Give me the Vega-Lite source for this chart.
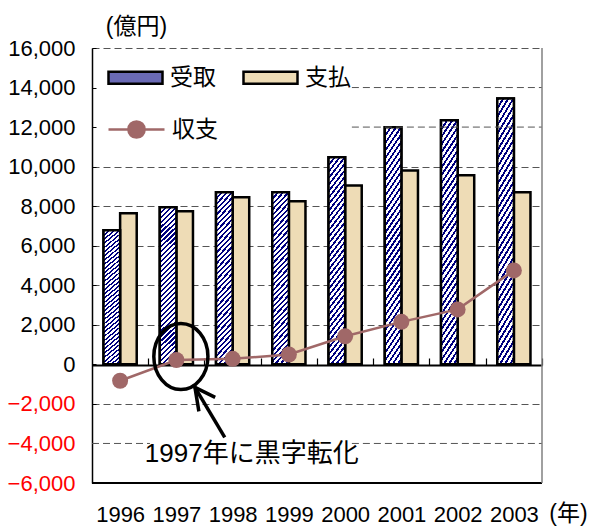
{
  "$schema": "https://vega.github.io/schema/vega-lite/v6.json",
  "width": 450,
  "height": 435,
  "autosize": "none",
  "padding": {"left": 92, "top": 48, "right": 50, "bottom": 44},
  "config": {
    "view": {"stroke": null},
    "font": "'Liberation Sans', 'Noto Sans CJK JP', sans-serif",
    "axis": {"labelFont": "'Liberation Sans', 'Noto Sans CJK JP', sans-serif", "titleFont": "'Liberation Sans', 'Noto Sans CJK JP', sans-serif"},
    "legend": {"labelFont": "'Liberation Sans', 'Noto Sans CJK JP', sans-serif"}
  },
  "encoding": {
    "y": {
      "field": "value", "type": "quantitative",
      "scale": {"domain": [-6000, 16000], "nice": false, "zero": false},
      "axis": {
        "values": [-6000, -4000, -2000, 0, 2000, 4000, 6000, 8000, 10000, 12000, 14000, 16000],
        "tickCount": 30,
        "format": ",.0f", "labelFontSize": 22, "labelPadding": 21, "labelOverlap": false, "labelBound": false, "labelFlush": false,
        "labelColor": {"condition": {"test": "datum.value < 0", "value": "#ff0000"}, "value": "black"},
        "ticks": true, "tickSize": -4, "tickColor": "black", "tickWidth": 1,
        "domainColor": "black", "domainWidth": 1.5,
        "grid": true, "gridColor": "#555555", "gridDash": [7, 4], "gridWidth": 1,
        "gridOpacity": {"condition": {"test": "datum.value == 0 || datum.value == -6000 || datum.value == -4000 || datum.value == 12000 || datum.value == 14000", "value": 0}, "value": 1},
        "title": "(億円)", "titleAngle": 0, "titleX": 44, "titleY": -22, "titleAlign": "center", "titleBaseline": "middle",
        "titleFontSize": 23, "titleFontWeight": "normal", "titleColor": "black"
      }
    }
  },
  "layer": [
    {
      "data": {
        "values": [
          {"year": "1996", "kind": "受取", "value": 6780},
          {"year": "1997", "kind": "受取", "value": 7940},
          {"year": "1998", "kind": "受取", "value": 8700},
          {"year": "1999", "kind": "受取", "value": 8700},
          {"year": "2000", "kind": "受取", "value": 10470},
          {"year": "2001", "kind": "受取", "value": 11990},
          {"year": "2002", "kind": "受取", "value": 12340},
          {"year": "2003", "kind": "受取", "value": 13450},
          {"year": "1996", "kind": "支払", "value": 7640},
          {"year": "1997", "kind": "支払", "value": 7740},
          {"year": "1998", "kind": "支払", "value": 8450},
          {"year": "1999", "kind": "支払", "value": 8250},
          {"year": "2000", "kind": "支払", "value": 9050},
          {"year": "2001", "kind": "支払", "value": 9810},
          {"year": "2002", "kind": "支払", "value": 9560},
          {"year": "2003", "kind": "支払", "value": 8700},
          {"year": "1996", "kind": "収支", "value": -830},
          {"year": "1997", "kind": "収支", "value": 220},
          {"year": "1998", "kind": "収支", "value": 280},
          {"year": "1999", "kind": "収支", "value": 500},
          {"year": "2000", "kind": "収支", "value": 1420},
          {"year": "2001", "kind": "収支", "value": 2150},
          {"year": "2002", "kind": "収支", "value": 2780},
          {"year": "2003", "kind": "収支", "value": 4750}
        ]
      },
      "layer": [
        {
          "transform": [{"filter": "datum.kind !== '収支'"}],
          "mark": {"type": "bar", "stroke": "black", "strokeWidth": 2.5},
          "encoding": {
            "x": {
              "field": "year", "type": "nominal",
              "scale": {"paddingInner": 0.41, "paddingOuter": 0.205},
              "axis": {
                "offset": -118, "domainColor": "black", "domainWidth": 2,
                "ticks": true, "bandPosition": 1, "tickOffset": 11.5, "labelOffset": -11.5,
                "tickSize": -7, "tickColor": "black", "tickWidth": 1.2,
                "labelAngle": 0, "labelFontSize": 22, "labelPadding": 146, "labelColor": "black", "labelOverlap": false,
                "title": "(年)", "titleX": 476, "titleY": 148, "titleAlign": "center", "titleBaseline": "middle",
                "titleFontSize": 23, "titleFontWeight": "normal", "titleColor": "black"
              }
            },
            "xOffset": {"field": "kind", "type": "nominal", "scale": {"domain": ["受取", "支払"], "paddingInner": 0, "paddingOuter": 0}},
            "fill": {
              "field": "kind", "type": "nominal",
              "scale": {"domain": ["受取", "支払"], "range": ["#6a6ab5", "#eedcb6"]},
              "legend": {
                "orient": "none", "legendX": 15, "legendY": 1, "direction": "horizontal", "columns": 2,
                "title": null, "symbolType": "M-1,-0.22H1V0.22H-1Z", "symbolSize": 2916,
                "symbolStrokeColor": "black", "symbolStrokeWidth": 2.5, "symbolOpacity": 1,
                "labelFontSize": 23, "labelOffset": 6, "columnPadding": 22, "padding": 0, "labelColor": "black"
              }
            }
          }
        },
        {
          "transform": [{"filter": "datum.kind === '受取'"}],
          "mark": {
            "type": "bar", "stroke": "black", "strokeWidth": 2.5,
            "fill": {
              "gradient": "linear", "x1": 0, "y1": 0, "x2": 1, "y2": 9.6,
              "stops": [
                {"offset": 0, "color": "#000080"}, {"offset": 0.0014, "color": "#000080"}, {"offset": 0.0014, "color": "#ffffff"}, {"offset": 0.00325, "color": "#ffffff"},
                {"offset": 0.00325, "color": "#000080"}, {"offset": 0.00465, "color": "#000080"}, {"offset": 0.00465, "color": "#ffffff"}, {"offset": 0.0065, "color": "#ffffff"},
                {"offset": 0.0065, "color": "#000080"}, {"offset": 0.0079, "color": "#000080"}, {"offset": 0.0079, "color": "#ffffff"}, {"offset": 0.00975, "color": "#ffffff"},
                {"offset": 0.00975, "color": "#000080"}, {"offset": 0.01115, "color": "#000080"}, {"offset": 0.01115, "color": "#ffffff"}, {"offset": 0.013, "color": "#ffffff"},
                {"offset": 0.013, "color": "#000080"}, {"offset": 0.0144, "color": "#000080"}, {"offset": 0.0144, "color": "#ffffff"}, {"offset": 0.01625, "color": "#ffffff"},
                {"offset": 0.01625, "color": "#000080"}, {"offset": 0.01765, "color": "#000080"}, {"offset": 0.01765, "color": "#ffffff"}, {"offset": 0.0195, "color": "#ffffff"},
                {"offset": 0.0195, "color": "#000080"}, {"offset": 0.0209, "color": "#000080"}, {"offset": 0.0209, "color": "#ffffff"}, {"offset": 0.02275, "color": "#ffffff"},
                {"offset": 0.02275, "color": "#000080"}, {"offset": 0.02415, "color": "#000080"}, {"offset": 0.02415, "color": "#ffffff"}, {"offset": 0.026, "color": "#ffffff"},
                {"offset": 0.026, "color": "#000080"}, {"offset": 0.0274, "color": "#000080"}, {"offset": 0.0274, "color": "#ffffff"}, {"offset": 0.02925, "color": "#ffffff"},
                {"offset": 0.02925, "color": "#000080"}, {"offset": 0.03065, "color": "#000080"}, {"offset": 0.03065, "color": "#ffffff"}, {"offset": 0.0325, "color": "#ffffff"},
                {"offset": 0.0325, "color": "#000080"}, {"offset": 0.0339, "color": "#000080"}, {"offset": 0.0339, "color": "#ffffff"}, {"offset": 0.03575, "color": "#ffffff"},
                {"offset": 0.03575, "color": "#000080"}, {"offset": 0.03715, "color": "#000080"}, {"offset": 0.03715, "color": "#ffffff"}, {"offset": 0.039, "color": "#ffffff"},
                {"offset": 0.039, "color": "#000080"}, {"offset": 0.0404, "color": "#000080"}, {"offset": 0.0404, "color": "#ffffff"}, {"offset": 0.04225, "color": "#ffffff"},
                {"offset": 0.04225, "color": "#000080"}, {"offset": 0.04365, "color": "#000080"}, {"offset": 0.04365, "color": "#ffffff"}, {"offset": 0.0455, "color": "#ffffff"},
                {"offset": 0.0455, "color": "#000080"}, {"offset": 0.0469, "color": "#000080"}, {"offset": 0.0469, "color": "#ffffff"}, {"offset": 0.04875, "color": "#ffffff"},
                {"offset": 0.04875, "color": "#000080"}, {"offset": 0.05015, "color": "#000080"}, {"offset": 0.05015, "color": "#ffffff"}, {"offset": 0.052, "color": "#ffffff"},
                {"offset": 0.052, "color": "#000080"}, {"offset": 0.0534, "color": "#000080"}, {"offset": 0.0534, "color": "#ffffff"}, {"offset": 0.05525, "color": "#ffffff"},
                {"offset": 0.05525, "color": "#000080"}, {"offset": 0.05665, "color": "#000080"}, {"offset": 0.05665, "color": "#ffffff"}, {"offset": 0.0585, "color": "#ffffff"},
                {"offset": 0.0585, "color": "#000080"}, {"offset": 0.0599, "color": "#000080"}, {"offset": 0.0599, "color": "#ffffff"}, {"offset": 0.06175, "color": "#ffffff"},
                {"offset": 0.06175, "color": "#000080"}, {"offset": 0.06315, "color": "#000080"}, {"offset": 0.06315, "color": "#ffffff"}, {"offset": 0.065, "color": "#ffffff"},
                {"offset": 0.065, "color": "#000080"}, {"offset": 0.0664, "color": "#000080"}, {"offset": 0.0664, "color": "#ffffff"}, {"offset": 0.06825, "color": "#ffffff"},
                {"offset": 0.06825, "color": "#000080"}, {"offset": 0.06965, "color": "#000080"}, {"offset": 0.06965, "color": "#ffffff"}, {"offset": 0.0715, "color": "#ffffff"},
                {"offset": 0.0715, "color": "#000080"}, {"offset": 0.0729, "color": "#000080"}, {"offset": 0.0729, "color": "#ffffff"}, {"offset": 0.07475, "color": "#ffffff"},
                {"offset": 0.07475, "color": "#000080"}, {"offset": 0.07615, "color": "#000080"}, {"offset": 0.07615, "color": "#ffffff"}, {"offset": 0.078, "color": "#ffffff"},
                {"offset": 0.078, "color": "#000080"}, {"offset": 0.0794, "color": "#000080"}, {"offset": 0.0794, "color": "#ffffff"}, {"offset": 0.08125, "color": "#ffffff"},
                {"offset": 0.08125, "color": "#000080"}, {"offset": 0.08265, "color": "#000080"}, {"offset": 0.08265, "color": "#ffffff"}, {"offset": 0.0845, "color": "#ffffff"},
                {"offset": 0.0845, "color": "#000080"}, {"offset": 0.0859, "color": "#000080"}, {"offset": 0.0859, "color": "#ffffff"}, {"offset": 0.08775, "color": "#ffffff"},
                {"offset": 0.08775, "color": "#000080"}, {"offset": 0.08915, "color": "#000080"}, {"offset": 0.08915, "color": "#ffffff"}, {"offset": 0.091, "color": "#ffffff"},
                {"offset": 0.091, "color": "#000080"}, {"offset": 0.0924, "color": "#000080"}, {"offset": 0.0924, "color": "#ffffff"}, {"offset": 0.09425, "color": "#ffffff"},
                {"offset": 0.09425, "color": "#000080"}, {"offset": 0.09565, "color": "#000080"}, {"offset": 0.09565, "color": "#ffffff"}, {"offset": 0.0975, "color": "#ffffff"},
                {"offset": 0.0975, "color": "#000080"}, {"offset": 0.0989, "color": "#000080"}, {"offset": 0.0989, "color": "#ffffff"}, {"offset": 0.10075, "color": "#ffffff"},
                {"offset": 0.10075, "color": "#000080"}, {"offset": 0.10215, "color": "#000080"}, {"offset": 0.10215, "color": "#ffffff"}, {"offset": 0.104, "color": "#ffffff"},
                {"offset": 0.104, "color": "#000080"}, {"offset": 0.1054, "color": "#000080"}, {"offset": 0.1054, "color": "#ffffff"}, {"offset": 0.10725, "color": "#ffffff"},
                {"offset": 0.10725, "color": "#000080"}, {"offset": 0.10865, "color": "#000080"}, {"offset": 0.10865, "color": "#ffffff"}, {"offset": 0.1105, "color": "#ffffff"},
                {"offset": 0.1105, "color": "#000080"}, {"offset": 0.1119, "color": "#000080"}, {"offset": 0.1119, "color": "#ffffff"}, {"offset": 0.11375, "color": "#ffffff"},
                {"offset": 0.11375, "color": "#000080"}, {"offset": 0.11515, "color": "#000080"}, {"offset": 0.11515, "color": "#ffffff"}, {"offset": 0.12, "color": "#ffffff"}
              ]
            }
          },
          "encoding": {
            "x": {"field": "year", "type": "nominal"},
            "xOffset": {"field": "kind", "type": "nominal", "scale": {"domain": ["受取", "支払"], "paddingInner": 0, "paddingOuter": 0}}
          }
        },
        {
          "transform": [{"filter": "datum.kind === '収支'"}],
          "mark": {"type": "line", "strokeWidth": 2.5, "point": {"filled": true, "size": 256, "opacity": 1}},
          "encoding": {
            "x": {"field": "year", "type": "nominal"},
            "color": {
              "datum": "収支",
              "scale": {"range": ["#a06868"]},
              "legend": {
                "orient": "none", "legendX": 15, "legendY": 52, "title": null,
                "symbolType": "M-1,0H1M0.29,0A0.29,0.29 0 1,1 -0.29,0A0.29,0.29 0 1,1 0.29,0Z",
                "symbolSize": 3136, "symbolStrokeWidth": 2.5, "symbolFillColor": "#a06868", "symbolStrokeColor": "#a06868", "symbolOpacity": 1,
                "labelFontSize": 23, "labelOffset": 6, "padding": 0, "labelColor": "black"
              }
            }
          }
        }
      ]
    },
    {
      "layer": [
        {
          "data": {
            "values": [
              {"value": 14000, "from": 2000.12, "to": 2003.5},
              {"value": 12000, "from": 2000.12, "to": 2003.5},
              {"value": -4000, "from": 1995.5, "to": 1996.53},
              {"value": -4000, "from": 2000.12, "to": 2003.5}
            ]
          },
          "mark": {"type": "rule", "color": "#555555", "strokeWidth": 1, "strokeDash": [7, 4]},
          "encoding": {
            "x": {"field": "from", "type": "quantitative", "scale": {"domain": [1995.5, 2003.5], "nice": false, "zero": false}, "axis": null},
            "x2": {"field": "to"}
          }
        },
        {
          "data": {"values": [{"value": -6000}]},
          "mark": {"type": "rule", "color": "black", "strokeWidth": 2},
          "encoding": {
            "x": {"datum": 1995.5, "type": "quantitative", "scale": {"domain": [1995.5, 2003.5], "nice": false, "zero": false}, "axis": null},
            "x2": {"datum": 2003.5}
          }
        },
        {
          "data": {"values": [{"value": -6000, "value2": 16000}]},
          "mark": {"type": "rule", "color": "#808080", "strokeWidth": 1.5},
          "encoding": {
            "x": {"datum": 2003.5, "type": "quantitative", "scale": {"domain": [1995.5, 2003.5], "nice": false, "zero": false}, "axis": null},
            "y2": {"field": "value2"}
          }
        },
        {
          "data": {"values": [{"x": 1997.08, "value": 400}]},
          "mark": {"type": "point", "shape": "M-0.82,0A0.82,1 0 1,0 0.82,0A0.82,1 0 1,0 -0.82,0Z", "size": 4356, "filled": false, "stroke": "black", "strokeWidth": 3.5, "opacity": 1},
          "encoding": {
            "x": {"field": "x", "type": "quantitative", "scale": {"domain": [1995.5, 2003.5], "nice": false, "zero": false}, "axis": null}
          }
        },
        {
          "data": {
            "values": [
              {"part": "head", "o": 1, "x": 1997.40, "value": -2377},
              {"part": "head", "o": 2, "x": 1997.33, "value": -1163},
              {"part": "head", "o": 3, "x": 1997.69, "value": -1669},
              {"part": "shaft", "o": 1, "x": 1997.33, "value": -1163},
              {"part": "shaft", "o": 2, "x": 1997.86, "value": -3692}
            ]
          },
          "mark": {"type": "line", "color": "black", "strokeWidth": 3.5},
          "encoding": {
            "x": {"field": "x", "type": "quantitative", "scale": {"domain": [1995.5, 2003.5], "nice": false, "zero": false}, "axis": null},
            "detail": {"field": "part", "type": "nominal"},
            "order": {"field": "o", "type": "quantitative"}
          }
        },
        {
          "data": {"values": [{"x": 1998.34, "value": -4552, "t": "1997年に黒字転化"}]},
          "mark": {"type": "text", "fontSize": 26, "color": "black", "align": "center", "baseline": "middle"},
          "encoding": {
            "x": {"field": "x", "type": "quantitative", "scale": {"domain": [1995.5, 2003.5], "nice": false, "zero": false}, "axis": null},
            "text": {"field": "t"}
          }
        }
      ]
    }
  ],
  "resolve": {"scale": {"x": "independent"}}
}
